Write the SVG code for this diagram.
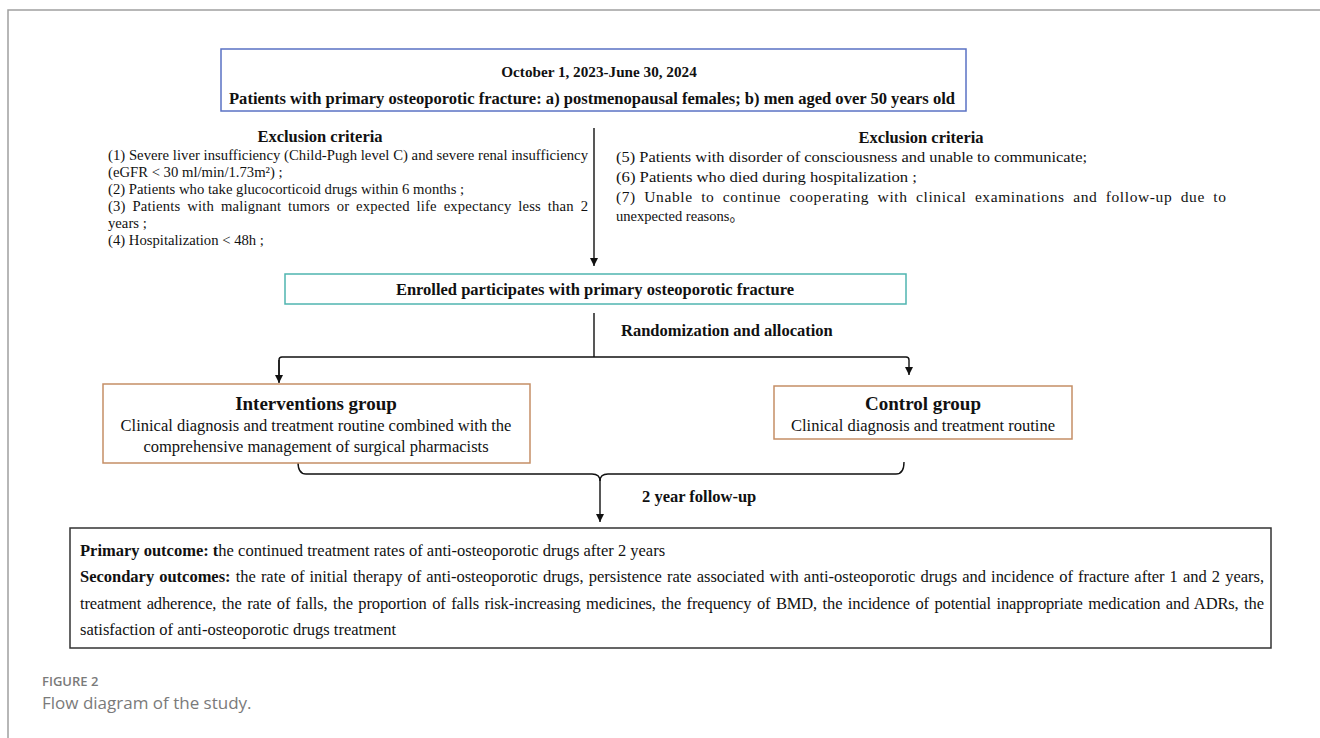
<svg xmlns="http://www.w3.org/2000/svg" width="1320" height="738" viewBox="0 0 1320 738">
<style>
  text { font-family: "Liberation Serif", "Noto Sans CJK SC", serif; fill: #111; }
  .b { font-weight: bold; }
  .h { font-size: 16.5px; font-weight: bold; }
  .l { font-size: 14.7px; }
  .r { font-size: 15.5px; }
  .m { font-size: 16.5px; }
  .g { font-size: 19px; font-weight: bold; }
  .cap { font-family: "Open Sans", "Liberation Sans", sans-serif; fill: #7a7a7a; }
  .line { stroke: #111; stroke-width: 1.4; fill: none; }
  .box { fill: #fff; stroke-width: 1.5; }
</style>
<defs>
  <marker id="ah" viewBox="0 0 10 10" refX="10" refY="5" markerWidth="8" markerHeight="8" markerUnits="userSpaceOnUse" orient="auto">
    <path d="M0,0 L10,5 L0,10 z" fill="#111"/>
  </marker>
</defs>
<rect width="1320" height="738" fill="#fff"/>
<g id="frame">
  <path d="M8,738 L8,10 L1320,10" stroke="#a0a0a0" stroke-width="1.5" fill="none"/>
</g>

<g id="connectors">
  <line class="line" x1="594" y1="128" x2="594" y2="266" marker-end="url(#ah)"/>
  <line class="line" x1="594" y1="313" x2="594" y2="357"/>
  <path class="line" d="M279,382 L279,360 Q279,357 282,357 L906,357 Q909,357 909,360 L909,375" marker-end="url(#ah)"/>
  <path class="line" d="M279,360 L279,383" marker-end="url(#ah)"/>
  <path class="line" d="M298,462 C298,470 300,474 306,474 L592,474 C597,474 600,476 600,481 C600,476 603,474 608,474 L896,474 C902,474 904,470 904,462"/>
  <line class="line" x1="600" y1="478" x2="600" y2="522" marker-end="url(#ah)"/>
  <text class="h" x="621" y="336">Randomization and allocation</text>
  <text class="h" x="642" y="502">2 year follow-up</text>
</g>

<g id="period">
  <rect class="box" x="221" y="49" width="745" height="62" stroke="#5a72c4"/>
  <text class="b" x="599" y="77" text-anchor="middle" font-size="15.2">October 1, 2023-June 30, 2024</text>
  <text class="b" x="229" y="104" font-size="15.7" textLength="726" lengthAdjust="spacingAndGlyphs">Patients with primary osteoporotic fracture: a) postmenopausal females; b) men aged over 50 years old</text>
</g>

<g id="exclusion-left">
  <text class="h" x="320" y="142" text-anchor="middle">Exclusion criteria</text>
  <text class="l" x="108" y="160" textLength="480" lengthAdjust="spacing">(1) Severe liver insufficiency (Child-Pugh level C) and severe renal insufficiency</text>
  <text class="l" x="108" y="177">(eGFR &lt; 30 ml/min/1.73m²) ;</text>
  <text class="l" x="108" y="194">(2) Patients who take glucocorticoid drugs within 6 months ;</text>
  <text class="l" x="108" y="211" word-spacing="3" textLength="480" lengthAdjust="spacing">(3) Patients with malignant tumors or expected life expectancy less than 2</text>
  <text class="l" x="108" y="228">years ;</text>
  <text class="l" x="108" y="245">(4) Hospitalization &lt; 48h ;</text>
</g>

<g id="exclusion-right">
  <text class="h" x="921" y="143" text-anchor="middle">Exclusion criteria</text>
  <text class="r" x="616" y="162" textLength="471" lengthAdjust="spacingAndGlyphs">(5) Patients with disorder of consciousness and unable to communicate;</text>
  <text class="r" x="616" y="182" textLength="301" lengthAdjust="spacingAndGlyphs">(6) Patients who died during hospitalization ;</text>
  <text class="r" x="616" y="202" word-spacing="4" textLength="610" lengthAdjust="spacing">(7) Unable to continue cooperating with clinical examinations and follow-up due to</text>
  <text class="r" x="616" y="221" textLength="128" lengthAdjust="spacingAndGlyphs">unexpected reasons。</text>
</g>

<g id="enrolled">
  <rect class="box" x="285" y="274" width="621" height="30" stroke="#4fb5b0"/>
  <text class="h" x="595" y="295" text-anchor="middle">Enrolled participates with primary osteoporotic fracture</text>
</g>

<g id="interventions">
  <rect class="box" x="103" y="384" width="427" height="79" stroke="#c58e66"/>
  <text class="g" x="316" y="410" text-anchor="middle">Interventions group</text>
  <text class="m" x="316" y="431" text-anchor="middle">Clinical diagnosis and treatment routine combined with the</text>
  <text class="m" x="316" y="452" text-anchor="middle">comprehensive management of surgical pharmacists</text>
</g>

<g id="control">
  <rect class="box" x="774" y="386" width="298" height="53" stroke="#c58e66"/>
  <text class="g" x="923" y="410" text-anchor="middle">Control group</text>
  <text class="m" x="923" y="431" text-anchor="middle">Clinical diagnosis and treatment routine</text>
</g>

<g id="outcomes">
  <rect class="box" x="70" y="528" width="1201" height="120" stroke="#333"/>
  <text class="m" x="80" y="556"><tspan class="b">Primary outcome: t</tspan>he continued treatment rates of anti-osteoporotic drugs after 2 years</text>
  <text class="m" x="80" y="582" word-spacing="1" textLength="1184" lengthAdjust="spacing"><tspan class="b">Secondary outcomes:</tspan> the rate of initial therapy of anti-osteoporotic drugs, persistence rate associated with anti-osteoporotic drugs and incidence of fracture after 1 and 2 years,</text>
  <text class="m" x="80" y="609" word-spacing="1.5" textLength="1184" lengthAdjust="spacing">treatment adherence, the rate of falls, the proportion of falls risk-increasing medicines, the frequency of BMD, the incidence of potential inappropriate medication and ADRs, the</text>
  <text class="m" x="80" y="635">satisfaction of anti-osteoporotic drugs treatment</text>
</g>

<g id="caption">
  <text class="cap" x="42" y="686" font-size="13" font-weight="600">FIGURE 2</text>
  <text class="cap" x="42" y="709" font-size="17">Flow diagram of the study.</text>
</g>
</svg>
